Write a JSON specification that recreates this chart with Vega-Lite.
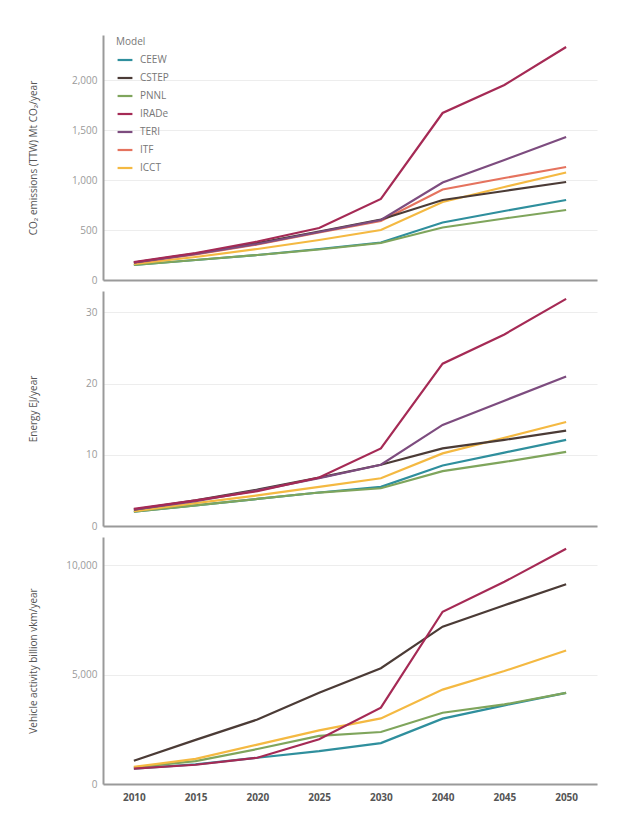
{
  "$schema": "https://vega.github.io/schema/vega-lite/v6.json",
  "padding": {"left": 27, "top": 35, "right": 40, "bottom": 10},
  "background": "white",
  "spacing": 6,
  "config": {
    "font": "Open Sans",
    "view": {"stroke": null},
    "axis": {
      "domainColor": "#9a9a9a",
      "domainWidth": 2,
      "ticks": false,
      "labelColor": "#9a9a9a",
      "labelFontSize": 10,
      "titleColor": "#555555",
      "titleFontSize": 10,
      "titleFontWeight": "normal",
      "gridColor": "#ededed",
      "gridWidth": 1
    },
    "line": {"strokeWidth": 2.2}
  },
  "datasets": {
    "co2": [
      {"model": "CEEW", "year": "2010", "value": 150}, {"model": "CEEW", "year": "2015", "value": 200}, {"model": "CEEW", "year": "2020", "value": 250}, {"model": "CEEW", "year": "2025", "value": 310}, {"model": "CEEW", "year": "2030", "value": 375}, {"model": "CEEW", "year": "2040", "value": 575}, {"model": "CEEW", "year": "2045", "value": 690}, {"model": "CEEW", "year": "2050", "value": 800},
      {"model": "PNNL", "year": "2010", "value": 150}, {"model": "PNNL", "year": "2015", "value": 200}, {"model": "PNNL", "year": "2020", "value": 250}, {"model": "PNNL", "year": "2025", "value": 305}, {"model": "PNNL", "year": "2030", "value": 370}, {"model": "PNNL", "year": "2040", "value": 525}, {"model": "PNNL", "year": "2045", "value": 615}, {"model": "PNNL", "year": "2050", "value": 700},
      {"model": "ICCT", "year": "2010", "value": 160}, {"model": "ICCT", "year": "2015", "value": 230}, {"model": "ICCT", "year": "2020", "value": 310}, {"model": "ICCT", "year": "2025", "value": 400}, {"model": "ICCT", "year": "2030", "value": 500}, {"model": "ICCT", "year": "2040", "value": 780}, {"model": "ICCT", "year": "2045", "value": 930}, {"model": "ICCT", "year": "2050", "value": 1075},
      {"model": "ITF", "year": "2010", "value": 170}, {"model": "ITF", "year": "2015", "value": 255}, {"model": "ITF", "year": "2020", "value": 355}, {"model": "ITF", "year": "2025", "value": 475}, {"model": "ITF", "year": "2030", "value": 590}, {"model": "ITF", "year": "2040", "value": 905}, {"model": "ITF", "year": "2045", "value": 1020}, {"model": "ITF", "year": "2050", "value": 1130},
      {"model": "CSTEP", "year": "2010", "value": 175}, {"model": "CSTEP", "year": "2015", "value": 265}, {"model": "CSTEP", "year": "2020", "value": 370}, {"model": "CSTEP", "year": "2025", "value": 485}, {"model": "CSTEP", "year": "2030", "value": 605}, {"model": "CSTEP", "year": "2040", "value": 800}, {"model": "CSTEP", "year": "2045", "value": 890}, {"model": "CSTEP", "year": "2050", "value": 980},
      {"model": "TERI", "year": "2010", "value": 175}, {"model": "TERI", "year": "2015", "value": 260}, {"model": "TERI", "year": "2020", "value": 360}, {"model": "TERI", "year": "2025", "value": 480}, {"model": "TERI", "year": "2030", "value": 600}, {"model": "TERI", "year": "2040", "value": 975}, {"model": "TERI", "year": "2045", "value": 1200}, {"model": "TERI", "year": "2050", "value": 1430},
      {"model": "IRADe", "year": "2010", "value": 180}, {"model": "IRADe", "year": "2015", "value": 270}, {"model": "IRADe", "year": "2020", "value": 385}, {"model": "IRADe", "year": "2025", "value": 520}, {"model": "IRADe", "year": "2030", "value": 810}, {"model": "IRADe", "year": "2040", "value": 1670}, {"model": "IRADe", "year": "2045", "value": 1950}, {"model": "IRADe", "year": "2050", "value": 2330}
    ],
    "energy": [
      {"model": "CEEW", "year": "2010", "value": 2.0}, {"model": "CEEW", "year": "2015", "value": 2.9}, {"model": "CEEW", "year": "2020", "value": 3.8}, {"model": "CEEW", "year": "2025", "value": 4.7}, {"model": "CEEW", "year": "2030", "value": 5.5}, {"model": "CEEW", "year": "2040", "value": 8.5}, {"model": "CEEW", "year": "2045", "value": 10.3}, {"model": "CEEW", "year": "2050", "value": 12.1},
      {"model": "PNNL", "year": "2010", "value": 2.0}, {"model": "PNNL", "year": "2015", "value": 2.9}, {"model": "PNNL", "year": "2020", "value": 3.8}, {"model": "PNNL", "year": "2025", "value": 4.7}, {"model": "PNNL", "year": "2030", "value": 5.3}, {"model": "PNNL", "year": "2040", "value": 7.7}, {"model": "PNNL", "year": "2045", "value": 9.0}, {"model": "PNNL", "year": "2050", "value": 10.4},
      {"model": "ICCT", "year": "2010", "value": 2.1}, {"model": "ICCT", "year": "2015", "value": 3.2}, {"model": "ICCT", "year": "2020", "value": 4.3}, {"model": "ICCT", "year": "2025", "value": 5.5}, {"model": "ICCT", "year": "2030", "value": 6.7}, {"model": "ICCT", "year": "2040", "value": 10.2}, {"model": "ICCT", "year": "2045", "value": 12.4}, {"model": "ICCT", "year": "2050", "value": 14.6},
      {"model": "CSTEP", "year": "2010", "value": 2.3}, {"model": "CSTEP", "year": "2015", "value": 3.6}, {"model": "CSTEP", "year": "2020", "value": 5.1}, {"model": "CSTEP", "year": "2025", "value": 6.8}, {"model": "CSTEP", "year": "2030", "value": 8.6}, {"model": "CSTEP", "year": "2040", "value": 10.9}, {"model": "CSTEP", "year": "2045", "value": 12.1}, {"model": "CSTEP", "year": "2050", "value": 13.4},
      {"model": "TERI", "year": "2010", "value": 2.3}, {"model": "TERI", "year": "2015", "value": 3.5}, {"model": "TERI", "year": "2020", "value": 5.0}, {"model": "TERI", "year": "2025", "value": 6.7}, {"model": "TERI", "year": "2030", "value": 8.6}, {"model": "TERI", "year": "2040", "value": 14.2}, {"model": "TERI", "year": "2045", "value": 17.6}, {"model": "TERI", "year": "2050", "value": 21.0},
      {"model": "IRADe", "year": "2010", "value": 2.4}, {"model": "IRADe", "year": "2015", "value": 3.6}, {"model": "IRADe", "year": "2020", "value": 4.9}, {"model": "IRADe", "year": "2025", "value": 6.8}, {"model": "IRADe", "year": "2030", "value": 10.9}, {"model": "IRADe", "year": "2040", "value": 22.8}, {"model": "IRADe", "year": "2045", "value": 26.9}, {"model": "IRADe", "year": "2050", "value": 31.9}
    ],
    "vkm": [
      {"model": "CEEW", "year": "2010", "value": 700}, {"model": "CEEW", "year": "2015", "value": 900}, {"model": "CEEW", "year": "2020", "value": 1200}, {"model": "CEEW", "year": "2025", "value": 1500}, {"model": "CEEW", "year": "2030", "value": 1870}, {"model": "CEEW", "year": "2040", "value": 2990}, {"model": "CEEW", "year": "2045", "value": 3600}, {"model": "CEEW", "year": "2050", "value": 4170},
      {"model": "PNNL", "year": "2010", "value": 760}, {"model": "PNNL", "year": "2015", "value": 1050}, {"model": "PNNL", "year": "2020", "value": 1600}, {"model": "PNNL", "year": "2025", "value": 2200}, {"model": "PNNL", "year": "2030", "value": 2380}, {"model": "PNNL", "year": "2040", "value": 3260}, {"model": "PNNL", "year": "2045", "value": 3640}, {"model": "PNNL", "year": "2050", "value": 4170},
      {"model": "ICCT", "year": "2010", "value": 780}, {"model": "ICCT", "year": "2015", "value": 1150}, {"model": "ICCT", "year": "2020", "value": 1800}, {"model": "ICCT", "year": "2025", "value": 2450}, {"model": "ICCT", "year": "2030", "value": 3000}, {"model": "ICCT", "year": "2040", "value": 4320}, {"model": "ICCT", "year": "2045", "value": 5170}, {"model": "ICCT", "year": "2050", "value": 6110},
      {"model": "CSTEP", "year": "2010", "value": 1060}, {"model": "CSTEP", "year": "2015", "value": 2020}, {"model": "CSTEP", "year": "2020", "value": 2950}, {"model": "CSTEP", "year": "2025", "value": 4170}, {"model": "CSTEP", "year": "2030", "value": 5300}, {"model": "CSTEP", "year": "2040", "value": 7200}, {"model": "CSTEP", "year": "2045", "value": 8180}, {"model": "CSTEP", "year": "2050", "value": 9140},
      {"model": "IRADe", "year": "2010", "value": 700}, {"model": "IRADe", "year": "2015", "value": 880}, {"model": "IRADe", "year": "2020", "value": 1200}, {"model": "IRADe", "year": "2025", "value": 2050}, {"model": "IRADe", "year": "2030", "value": 3490}, {"model": "IRADe", "year": "2040", "value": 7880}, {"model": "IRADe", "year": "2045", "value": 9250}, {"model": "IRADe", "year": "2050", "value": 10760}
    ]
  },
  "resolve": {"scale": {"color": "shared"}, "legend": {"color": "independent"}},
  "vconcat": [
    {
      "width": 494,
      "height": 245,
      "data": {"name": "co2"},
      "mark": {"type": "line"},
      "encoding": {
        "x": {"field": "year", "type": "ordinal", "scale": {"type": "point", "padding": 0.5, "domain": ["2010","2015","2020","2025","2030","2040","2045","2050"]}, "axis": {"labels": false, "title": null, "grid": false}},
        "y": {"field": "value", "type": "quantitative", "scale": {"domain": [0, 2450], "nice": false}, "axis": {"values": [0, 500, 1000, 1500, 2000], "format": ",d", "title": "CO₂ emissions (TTW) Mt CO₂/year", "titleX": -70, "titleAlign": "center", "titleBaseline": "middle", "labelPadding": 6}},
        "color": {"field": "model", "type": "nominal", "scale": {"domain": ["CEEW","CSTEP","PNNL","IRADe","TERI","ITF","ICCT"], "range": ["#2f8f9d","#4b3b36","#7fa55c","#a52a55","#7d4c7f","#e5735e","#f4b942"]},
          "legend": {"title": "Model", "orient": "none", "legendX": 13, "legendY": 2, "symbolType": "stroke", "symbolSize": 220, "symbolStrokeWidth": 2.5, "labelFontSize": 10, "labelColor": "#777777", "titleFontSize": 10, "titleFontWeight": "normal", "titleColor": "#777777", "rowPadding": 4, "titlePadding": 4, "labelOffset": 6}}
      }
    },
    {
      "width": 494,
      "height": 235,
      "data": {"name": "energy"},
      "mark": {"type": "line"},
      "encoding": {
        "x": {"field": "year", "type": "ordinal", "scale": {"type": "point", "padding": 0.5, "domain": ["2010","2015","2020","2025","2030","2040","2045","2050"]}, "axis": {"labels": false, "title": null, "grid": false}},
        "y": {"field": "value", "type": "quantitative", "scale": {"domain": [0, 33], "nice": false}, "axis": {"values": [0, 10, 20, 30], "format": "d", "title": "Energy EJ/year", "titleX": -70, "titleAlign": "center", "titleBaseline": "middle", "labelPadding": 6}},
        "color": {"field": "model", "type": "nominal", "legend": null}
      }
    },
    {
      "width": 494,
      "height": 247,
      "data": {"name": "vkm"},
      "mark": {"type": "line"},
      "encoding": {
        "x": {"field": "year", "type": "ordinal", "scale": {"type": "point", "padding": 0.5, "domain": ["2010","2015","2020","2025","2030","2040","2045","2050"]}, "axis": {"title": null, "grid": false, "labelAngle": 0, "labelColor": "#555555", "labelFontWeight": "bold", "labelFontSize": 10, "labelPadding": 8}},
        "y": {"field": "value", "type": "quantitative", "scale": {"domain": [0, 11300], "nice": false}, "axis": {"values": [0, 5000, 10000], "format": ",d", "title": "Vehicle activity billion vkm/year", "titleX": -70, "titleAlign": "center", "titleBaseline": "middle", "labelPadding": 6}},
        "color": {"field": "model", "type": "nominal", "legend": null}
      }
    }
  ]
}
